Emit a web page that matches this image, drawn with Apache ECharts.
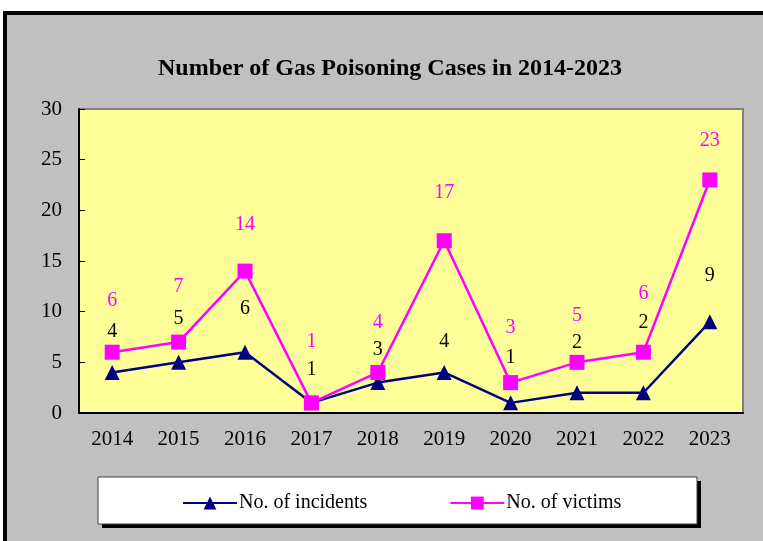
<!DOCTYPE html>
<html>
<head>
<meta charset="utf-8">
<script src="https://cdn.jsdelivr.net/npm/echarts@6/dist/echarts.min.js"></script>
<style>
  html, body { margin: 0; padding: 0; background: #fff; }
  #chart { width: 763px; height: 541px; }
</style>
</head>
<body>
<div id="chart"></div>
<script>
// data
var years = ['2014', '2015', '2016', '2017', '2018', '2019', '2020', '2021', '2022', '2023'];
var incidents = [4, 5, 6, 1, 3, 4, 1, 2, 2, 9];
var victims = [6, 7, 14, 1, 4, 17, 3, 5, 6, 23];

// how far above its point each value label sits (px), labels were hand placed
var incidentsLift = [41, 44, 43, 33, 33, 31, 45, 50, 70, 46];
var victimsLift = [51, 55, 46, 61, 50, 48, 55, 47, 58, 39];

var serif = '"Liberation Serif", "Times New Roman", serif';
var chart = echarts.init(document.getElementById('chart'));

// build data items with per-point label offsets
function withLabels(values, lifts) {
    return values.map(function (v, i) {
        return { value: v, label: { offset: [0, -lifts[i]] } };
    });
}

var option = {
    backgroundColor: '#fff',
    animation: false,
    textStyle: { fontFamily: serif },
    graphic: [
        // gray frame with black border
        { type: 'rect', z: -10, shape: { x: 5, y: 13, width: 820, height: 600 },
          style: { fill: '#c0c0c0', stroke: '#000', lineWidth: 4 } },
        // legend box shadow + box
        { type: 'rect', z: -5, shape: { x: 102, y: 481, width: 599, height: 47 },
          style: { fill: '#000' } },
        { type: 'rect', z: -4, shape: { x: 98, y: 477, width: 599, height: 47 },
          style: { fill: '#fff', stroke: '#404040', lineWidth: 1 } }
    ],
    title: {
        text: 'Number of Gas Poisoning Cases in 2014-2023',
        left: 385, top: 52, textAlign: 'center',
        textStyle: { fontFamily: serif, fontSize: 24, fontWeight: 'bold', color: '#000' }
    },
    legend: {
        top: 488, left: 177,
        itemWidth: 54, itemHeight: 16, itemGap: 82,
        textStyle: { fontFamily: serif, fontSize: 20, color: '#000', padding: [0, 0, 0, -3] },
        data: ['No. of incidents', 'No. of victims']
    },
    grid: {
        left: 79, right: 20, top: 109, bottom: 128,
        show: true, backgroundColor: '#ffff99', borderColor: '#808080', borderWidth: 2
    },
    xAxis: {
        type: 'category', data: years, boundaryGap: true,
        axisLine: { lineStyle: { color: '#000', width: 2 } },
        axisTick: { inside: true, length: 6, lineStyle: { color: '#000' } },
        axisLabel: { fontFamily: serif, fontSize: 21, color: '#000', margin: 16 },
        splitLine: { show: false }
    },
    yAxis: {
        type: 'value', min: 0, max: 30, interval: 5,
        axisLine: { show: true, lineStyle: { color: '#000', width: 2 } },
        axisTick: { show: true, inside: true, length: 6, lineStyle: { color: '#000' } },
        axisLabel: { fontFamily: serif, fontSize: 21, color: '#000', margin: 17 },
        splitLine: { show: false }
    },
    series: [
        {
            name: 'No. of incidents', type: 'line', data: withLabels(incidents, incidentsLift),
            symbol: 'triangle', symbolSize: 15,
            lineStyle: { color: '#000080', width: 2.5 },
            itemStyle: { color: '#000080' },
            label: { show: true, position: 'inside', fontFamily: serif, fontSize: 20, color: '#000' }
        },
        {
            name: 'No. of victims', type: 'line', data: withLabels(victims, victimsLift),
            symbol: 'rect', symbolSize: 15,
            lineStyle: { color: '#ff00ff', width: 2.5 },
            itemStyle: { color: '#ff00ff' },
            label: { show: true, position: 'inside', fontFamily: serif, fontSize: 20, color: '#ff00ff' }
        }
    ]
};
chart.setOption(option);
</script>
</body>
</html>
